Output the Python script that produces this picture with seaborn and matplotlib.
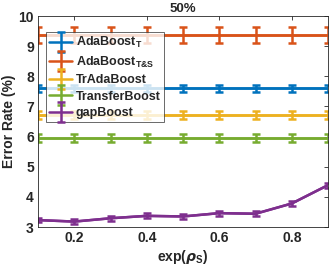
import numpy as np
import pandas as pd
import matplotlib
matplotlib.use("Agg")
import matplotlib.pyplot as plt
from matplotlib.mathtext import MathTextParser
from matplotlib.legend_handler import HandlerErrorbar
from matplotlib.container import ErrorbarContainer
import seaborn as sns

x_values = [0.1, 0.2, 0.3, 0.4, 0.5, 0.6, 0.7, 0.8, 0.9]
ada_t = [7.6] * 9
ada_t_err = [0.12] * 9
ada_ts = [9.37] * 9
ada_ts_err = [0.26] * 9
tradaboost = [6.72] * 9
tradaboost_err = [0.13] * 9
transferboost = [5.95] * 9
transferboost_err = [0.12] * 9
gapboost = [3.23, 3.18, 3.29, 3.37, 3.35, 3.46, 3.44, 3.78, 4.39]
gapboost_err = [0.08] * 9

sns.set_style("white")
plt.rcParams["font.family"] = ["Liberation Sans", "DejaVu Sans"]
plt.rcParams["font.weight"] = "bold"
plt.rcParams["mathtext.fontset"] = "custom"
plt.rcParams["mathtext.rm"] = "Liberation Sans:bold"
plt.rcParams["mathtext.bf"] = "Liberation Sans:bold"
plt.rcParams["mathtext.it"] = "DejaVu Sans:italic"

_p = MathTextParser("path")
ts_label = "AdaBoost$_\\mathrm{T}$"
for cand in ["AdaBoost$_\\mathrm{T&S}$", "AdaBoost$_{\\mathrm{T}&\\mathrm{S}}$", "AdaBoost$_\\mathrm{T}$"]:
    try:
        _p.parse(cand, 72)
        ts_label = cand
        break
    except Exception:
        pass

labels = [r"AdaBoost$_\mathrm{T}$", ts_label, "TrAdaBoost", "TransferBoost", "gapBoost"]
colors = ["#0072BD", "#D95319", "#EDB120", "#77AC30", "#7E2F8E"]

series = [(ada_t, ada_t_err), (ada_ts, ada_ts_err), (tradaboost, tradaboost_err),
          (transferboost, transferboost_err), (gapboost, gapboost_err)]
frames = []
for lab, (v, e) in zip(labels, series):
    frames.append(pd.DataFrame({"x": x_values, "y": v, "err": e, "method": lab}))
df = pd.concat(frames, ignore_index=True)

fig = plt.figure(figsize=(3.32, 2.74), dpi=100)
ax = fig.add_axes([0.1145, 0.1715, 0.8735, 0.77])

for lab, col in zip(labels, colors):
    d = df[df["method"] == lab]
    sns.lineplot(data=d, x="x", y="y", color=col, lw=1.8, ax=ax, legend=False)
    ax.errorbar(d["x"], d["y"], yerr=d["err"], color=col, lw=1.8, elinewidth=1.8,
                capsize=3, capthick=1.8, label=lab)

ax.set_xlim(0.1, 0.9)
ax.set_ylim(3, 10)
ax.set_xticks([0.2, 0.4, 0.6, 0.8])
ax.set_xticklabels(["0.2", "0.4", "0.6", "0.8"])
ax.set_yticks([3, 4, 5, 6, 7, 8, 9, 10])
ax.tick_params(direction="in", length=3, width=0.6, colors="#262626", labelsize=10,
               top=True, right=True, pad=3)
for lbl in ax.get_xticklabels() + ax.get_yticklabels():
    lbl.set_fontweight("bold")
for s in ax.spines.values():
    s.set_color("#262626")
    s.set_linewidth(0.6)

ax.set_title("50%", fontsize=9.5, fontweight="bold", pad=3)
ax.set_xlabel(r"exp($\rho_\mathrm{S}$)", fontsize=10, fontweight="bold", labelpad=2)
ax.set_ylabel("Error Rate (%)", fontsize=10, fontweight="bold", labelpad=2)

leg = ax.legend(loc="upper left", bbox_to_anchor=(0.026, 0.925), fontsize=9, frameon=True,
                fancybox=False, edgecolor="#262626", handlelength=1.9, handletextpad=0.25,
                borderpad=0.25, labelspacing=0.36, borderaxespad=0,
                handler_map={ErrorbarContainer: HandlerErrorbar(xerr_size=0.8)})
leg.get_frame().set_linewidth(0.6)
for t in leg.get_texts():
    t.set_fontweight("bold")

fig.savefig("out.png", dpi=100)
